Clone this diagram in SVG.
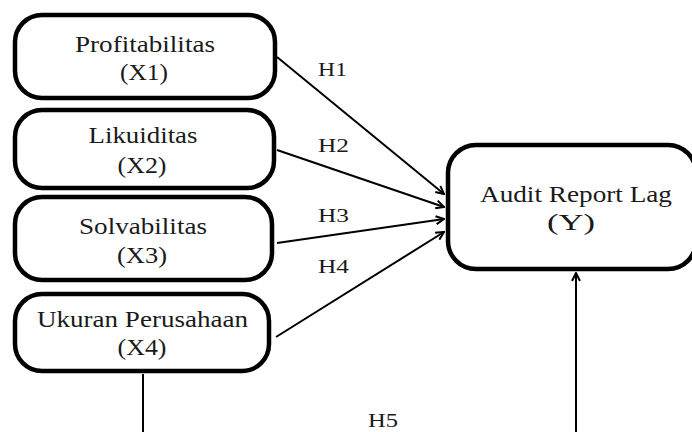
<svg xmlns="http://www.w3.org/2000/svg" width="692" height="432" viewBox="0 0 692 432">
<style>
.box{fill:#fff;stroke:#000;stroke-width:4.5}
.t{font-family:"Liberation Serif","Times New Roman",serif;font-size:22.5px;fill:#1a1a1a;text-anchor:middle}
.h{font-family:"Liberation Serif","Times New Roman",serif;font-size:19.5px;fill:#1a1a1a}
.c{fill:none;stroke:#000;stroke-width:2}
</style>
<defs>
<marker id="arr" viewBox="0 0 10 10" refX="9" refY="5" markerWidth="10" markerHeight="10" markerUnits="userSpaceOnUse" orient="auto">
<path d="M1,1 L9,5 L1,9" fill="none" stroke="#000" stroke-width="2"/>
</marker>
</defs>
<rect width="692" height="432" fill="#fff"/>
<g id="connectors">
<line class="c" x1="277" y1="57" x2="444" y2="194" marker-end="url(#arr)"/>
<line class="c" x1="277" y1="150" x2="444" y2="207" marker-end="url(#arr)"/>
<line class="c" x1="277" y1="243" x2="444" y2="219" marker-end="url(#arr)"/>
<line class="c" x1="276" y1="337" x2="444" y2="232" marker-end="url(#arr)"/>
<polyline class="c" points="143,374 143,432.9 576,432.9 576,273" marker-end="url(#arr)"/>
<text class="h" x="318" y="76" textLength="29" lengthAdjust="spacingAndGlyphs">H1</text>
<text class="h" x="318" y="152" textLength="31" lengthAdjust="spacingAndGlyphs">H2</text>
<text class="h" x="318" y="222" textLength="31" lengthAdjust="spacingAndGlyphs">H3</text>
<text class="h" x="318" y="273" textLength="31" lengthAdjust="spacingAndGlyphs">H4</text>
<text class="h" x="368" y="427" textLength="30" lengthAdjust="spacingAndGlyphs">H5</text>
</g>
<g id="X1">
<rect class="box" x="15" y="15" width="260" height="83" rx="27"/>
<text class="t" x="145" y="52" textLength="140" lengthAdjust="spacingAndGlyphs">Profitabilitas</text>
<text class="t" x="144" y="80" textLength="48" lengthAdjust="spacingAndGlyphs">(X1)</text>
</g>
<g id="X2">
<rect class="box" x="15" y="110" width="259" height="78" rx="27"/>
<text class="t" x="143" y="143" textLength="109" lengthAdjust="spacingAndGlyphs">Likuiditas</text>
<text class="t" x="142" y="173" textLength="49" lengthAdjust="spacingAndGlyphs">(X2)</text>
</g>
<g id="X3">
<rect class="box" x="15" y="197" width="257" height="83" rx="27"/>
<text class="t" x="143" y="234" textLength="128" lengthAdjust="spacingAndGlyphs">Solvabilitas</text>
<text class="t" x="142" y="263" textLength="50" lengthAdjust="spacingAndGlyphs">(X3)</text>
</g>
<g id="X4">
<rect class="box" x="15" y="294" width="254" height="77" rx="27"/>
<text class="t" x="142.5" y="327" textLength="211" lengthAdjust="spacingAndGlyphs">Ukuran Perusahaan</text>
<text class="t" x="142" y="355" textLength="49" lengthAdjust="spacingAndGlyphs">(X4)</text>
</g>
<g id="Y">
<rect class="box" x="448" y="145" width="248" height="124" rx="28"/>
<text class="t" x="576" y="202" textLength="192" lengthAdjust="spacingAndGlyphs">Audit Report Lag</text>
<text class="t" x="571" y="230" textLength="48" lengthAdjust="spacingAndGlyphs">(Y)</text>
</g>
</svg>
